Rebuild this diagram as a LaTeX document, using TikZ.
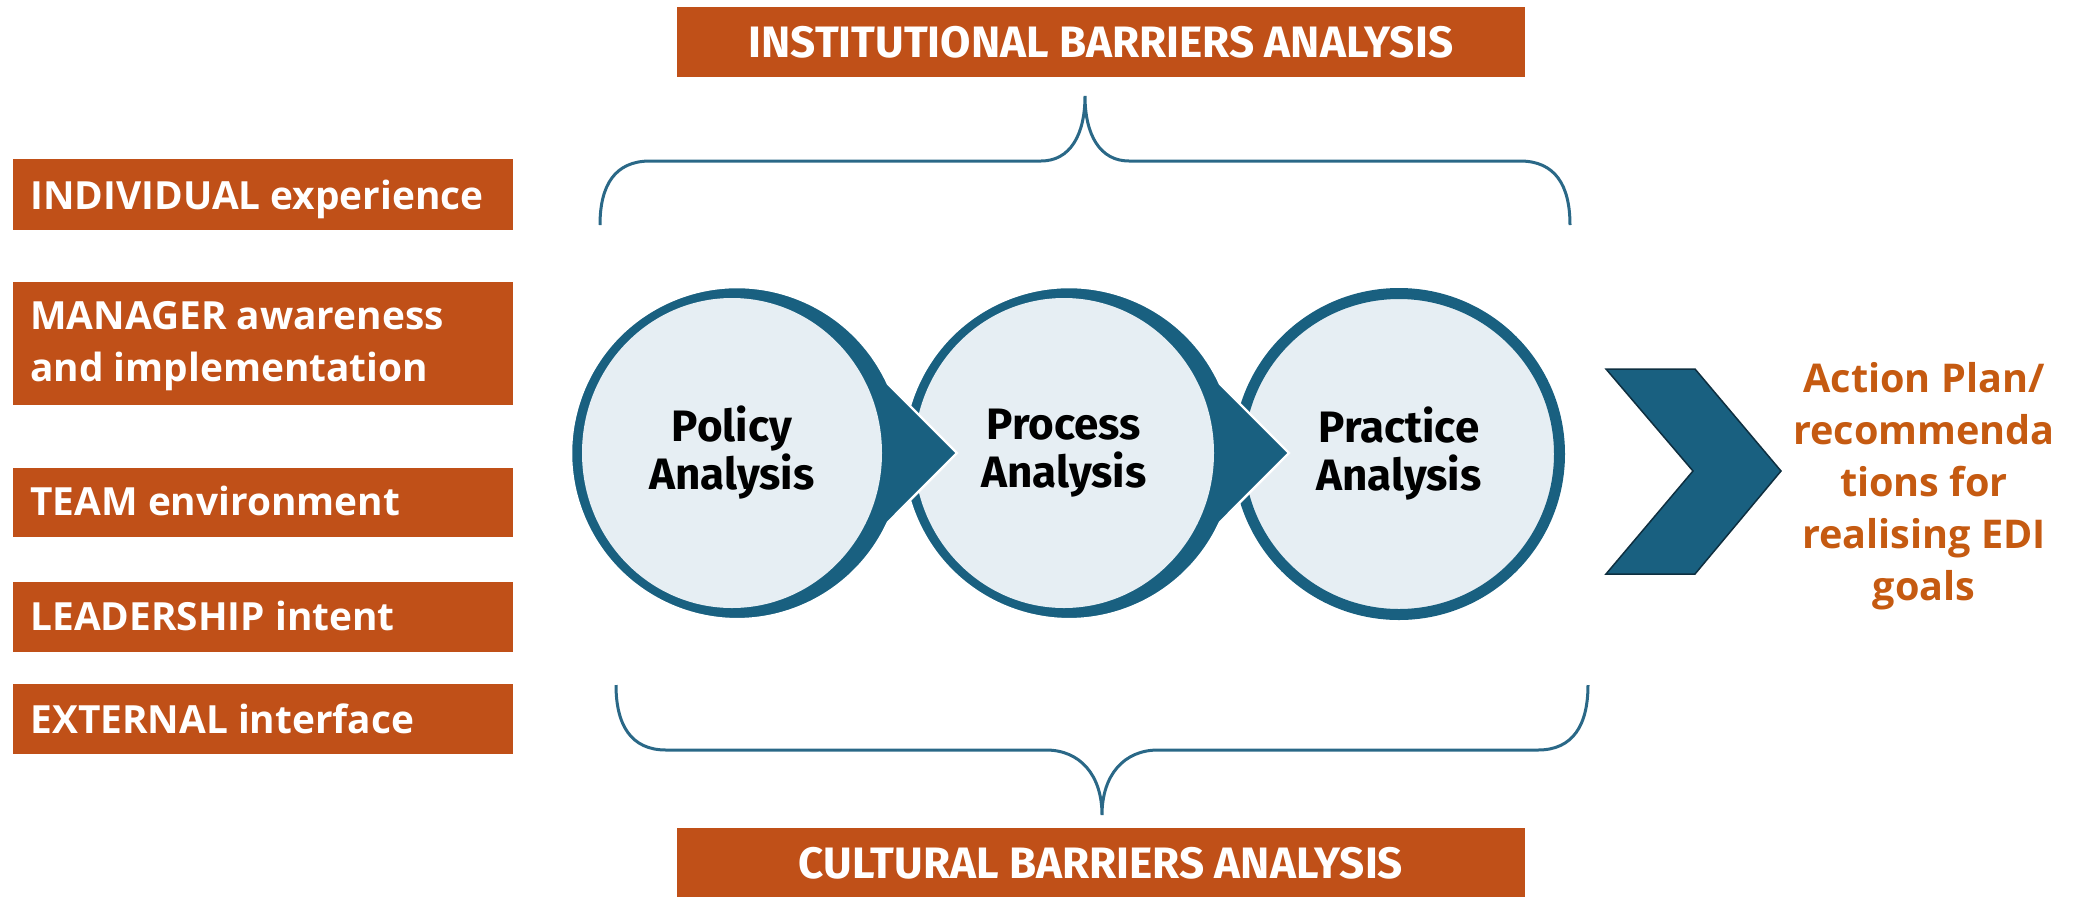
\documentclass[tikz,border=0pt]{standalone}
\usepackage{fontspec}
\setmainfont{Open Sans}
\newfontfamily\firafont{Fira Sans}
\definecolor{boxor}{RGB}{192,80,24}
\definecolor{txtor}{RGB}{197,90,17}
\definecolor{dblue}{RGB}{25,96,128}
\definecolor{lblue}{RGB}{230,238,243}
\definecolor{bracecol}{RGB}{42,104,135}
\definecolor{chevline}{RGB}{14,47,64}
\begin{document}
\begin{tikzpicture}[x=0.5pt,y=0.5pt,
  lbox/.style={fill=boxor, draw=none, anchor=north west, inner sep=0pt, outer sep=0pt, minimum width=250pt},
  ltext/.style={anchor=base west, inner sep=0pt, text=white, font=\fontsize{19.4}{26}\selectfont\bfseries},
  banner/.style={fill=boxor, minimum width=424pt, minimum height=35pt, inner sep=0pt, text=white,
    font=\firafont\fontsize{22}{24}\selectfont\bfseries, text height=15.1pt, text depth=0pt},
  stagetext/.style={inner sep=0pt, align=center, font=\firafont\fontsize{22}{24}\selectfont\bfseries},
  stage/.style={stagetext, circle, minimum size=160.5pt, outer sep=0pt, fill=lblue, draw=dblue, line width=5.5pt},
  teardrop/.style={fill=dblue, draw=white, line width=1.2pt, line join=miter},
  innerdisc/.style={fill=lblue},
  bracestyle/.style={draw=bracecol, line width=1.5pt},
  chevron/.style={fill=dblue, draw=chevline, line width=0.75pt, line join=miter}
]
\useasboundingbox (0,0) rectangle (2074,-896);

% left boxes
\node[lbox, minimum height=35.5pt] (bind) at (13,-159) {};
\node[lbox, minimum height=61.5pt] (bman) at (13,-282) {};
\node[lbox, minimum height=34.5pt] (bteam) at (13,-468) {};
\node[lbox, minimum height=35pt] (blead) at (13,-582) {};
\node[lbox, minimum height=35pt] (bext) at (13,-684) {};

\node[ltext] (tind) at (30,-209) {INDIVIDUAL experience};
\node[ltext, anchor=west, align=left] (tman) at (30,-346.6) {MANAGER awareness\\and implementation};
\node[ltext] (tteam) at (30,-515) {TEAM environment};
\node[ltext] (tlead) at (30,-630) {LEADERSHIP intent};
\node[ltext] (text) at (30,-733) {EXTERNAL interface};

% banners
\node[banner] (inst) at (1101,-42) {INSTITUTIONAL BARRIERS ANALYSIS};
\node[banner] (cult) at (1101,-863) {CULTURAL BARRIERS ANALYSIS};

% braces
\draw[bracestyle] (600,-225) .. controls (600,-185) and (615,-161) .. (650,-161) -- (1041,-161)
  .. controls (1070,-161) and (1085,-135) .. (1085,-96)
  .. controls (1085,-135) and (1100,-161) .. (1129,-161) -- (1520,-161)
  .. controls (1555,-161) and (1570,-185) .. (1570,-225);
\draw[bracestyle] (616,-685) .. controls (616,-725) and (631,-750) .. (666,-750) -- (1046,-750)
  .. controls (1080,-750) and (1102,-775) .. (1102,-815)
  .. controls (1102,-775) and (1124,-750) .. (1158,-750) -- (1538,-750)
  .. controls (1573,-750) and (1588,-725) .. (1588,-685);

% stages
\node[stage] (practice) at (1399,-454) {Practice\\Analysis};

\path[teardrop] (1220,-384) arc[start angle=24.6, end angle=335.4, radius=166] -- (1289,-453) -- cycle;
\path[innerdisc] (1064,-453) ellipse[x radius=150, y radius=155];
\node[stagetext] (process) at (1064,-453) {Process\\Analysis};

\path[teardrop] (888,-384) arc[start angle=24.6, end angle=335.4, radius=166] -- (957,-453) -- cycle;
\path[innerdisc] (732,-453) ellipse[x radius=150, y radius=155];
\node[stagetext] (policy) at (732,-453) {Policy\\Analysis};

% chevron
\path[chevron] (1606,-369) -- (1695,-369) -- (1781,-471) -- (1695,-574) -- (1606,-574) -- (1693,-471) -- cycle;

% outcome
\node[text=txtor, align=center, inner sep=0pt, font=\fontsize{19.8}{26}\selectfont\bfseries] (plan) at (1924,-486)
  {Action Plan/\\recommenda\\tions for\\realising EDI\\goals};
\end{tikzpicture}
\end{document}
